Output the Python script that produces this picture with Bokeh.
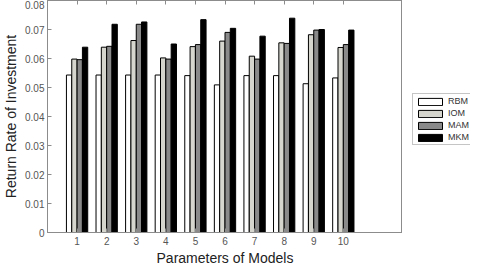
from bokeh.plotting import figure
from bokeh.layouts import row
from bokeh.models import ColumnDataSource, FixedTicker, LinearAxis, Legend, LegendItem, Range1d
from bokeh.transform import dodge
from bokeh.embed import file_html
from bokeh.resources import INLINE

groups = [1, 2, 3, 4, 5, 6, 7, 8, 9, 10]
series_names = ["RBM", "IOM", "MAM", "MKM"]
rbm = [0.0543, 0.0543, 0.0543, 0.0543, 0.0541, 0.0509, 0.0541, 0.0541, 0.0513, 0.0533]
iom = [0.0598, 0.0639, 0.0662, 0.0602, 0.0641, 0.0660, 0.0608, 0.0654, 0.0682, 0.0638]
mam = [0.0596, 0.0642, 0.0718, 0.0598, 0.0648, 0.0690, 0.0598, 0.0652, 0.0698, 0.0648]
mkm = [0.0639, 0.0718, 0.0726, 0.0650, 0.0734, 0.0704, 0.0677, 0.0739, 0.0700, 0.0698]
y_ticks = [0, 0.01, 0.02, 0.03, 0.04, 0.05, 0.06, 0.07, 0.08]
y_tick_labels = ["0", "0.01", "0.02", "0.03", "0.04", "0.05", "0.06", "0.07", "0.08"]

src = ColumnDataSource(dict(x=groups, RBM=rbm, IOM=iom, MAM=mam, MKM=mkm))

p = figure(frame_width=355, frame_height=232, output_backend="svg", toolbar_location=None,
           x_range=Range1d(0, 12), y_range=Range1d(0, 0.08),
           min_border_left=41, min_border_top=0, min_border_bottom=0,
           min_border_right=0)
p.xgrid.visible = False
p.ygrid.visible = False
p.outline_line_color = "#8c8c8c"
p.background_fill_color = "white"
p.border_fill_color = "white"

colors = ["#ffffff", "#d6d6cf", "#8a8a8a", "#000000"]
offsets = [-0.27, -0.09, 0.09, 0.27]
for name, c, off in zip(series_names, colors, offsets):
    p.vbar(x=dodge("x", off, range=p.x_range), top=name, width=0.18, source=src,
           fill_color=c, line_color="black", line_width=1)

font = "Liberation Sans"
for ax in [p.xaxis[0], p.yaxis[0]]:
    ax.axis_line_color = "#8c8c8c"
    ax.major_tick_line_color = "#8c8c8c"
    ax.minor_tick_line_color = None
    ax.major_tick_in = 4
    ax.major_tick_out = 0
    ax.major_label_text_font = font
    ax.major_label_text_font_size = "10px"
    ax.major_label_text_color = "#555555"
    ax.axis_label_text_font = font
    ax.axis_label_text_font_size = "14px"
    ax.axis_label_text_font_style = "normal"
    ax.axis_label_text_color = "#222222"

p.xaxis.ticker = FixedTicker(ticks=groups)
p.xaxis.axis_label = "Parameters of Models"
p.xaxis.major_label_standoff = 4
p.xaxis.axis_label_standoff = 2
p.yaxis.ticker = FixedTicker(ticks=y_ticks)
p.yaxis.major_label_overrides = {t: l for t, l in zip(y_ticks, y_tick_labels)}
p.yaxis.axis_label = "Return Rate of Investment"
p.yaxis.major_label_standoff = 3
p.yaxis.axis_label_standoff = 3

top_ax = LinearAxis(ticker=FixedTicker(ticks=groups), major_label_text_font_size="1px",
                    major_label_text_alpha=0,
                    axis_line_color="#8c8c8c", major_tick_line_color="#8c8c8c",
                    minor_tick_line_color=None, major_tick_in=4, major_tick_out=0,
                    major_label_standoff=0)
p.add_layout(top_ax, "above")

# separate narrow figure holding the legend to the right of the frame
lf = figure(width=68, height=252, output_backend="svg", toolbar_location=None,
            x_range=Range1d(0, 1), y_range=Range1d(0, 1),
            min_border_left=0, min_border_right=0, min_border_top=0, min_border_bottom=0)
lf.axis.visible = False
lf.grid.visible = False
lf.outline_line_color = None
lf.border_fill_color = "white"
# legend proxies: one bar each, placed outside the visible range
proxy = ColumnDataSource(dict(x=[5], top=[0.5]))
leg_renderers = [lf.vbar(x="x", top="top", width=0.1, source=proxy, fill_color=c,
                         line_color="black", line_width=1) for c in colors]

legend = Legend(items=[LegendItem(label=n, renderers=[r], index=0)
                       for n, r in zip(series_names, leg_renderers)],
                location=(10, 71), label_text_font=font, label_text_font_size="9px",
                label_text_color="#333333", glyph_width=30, glyph_height=9,
                label_height=9, spacing=2, padding=2, margin=0,
                border_line_color="#8c8c8c", label_standoff=3)
lf.add_layout(legend, "center")

layout = row(p, lf)
open("out.html", "w").write(file_html(layout, INLINE))
